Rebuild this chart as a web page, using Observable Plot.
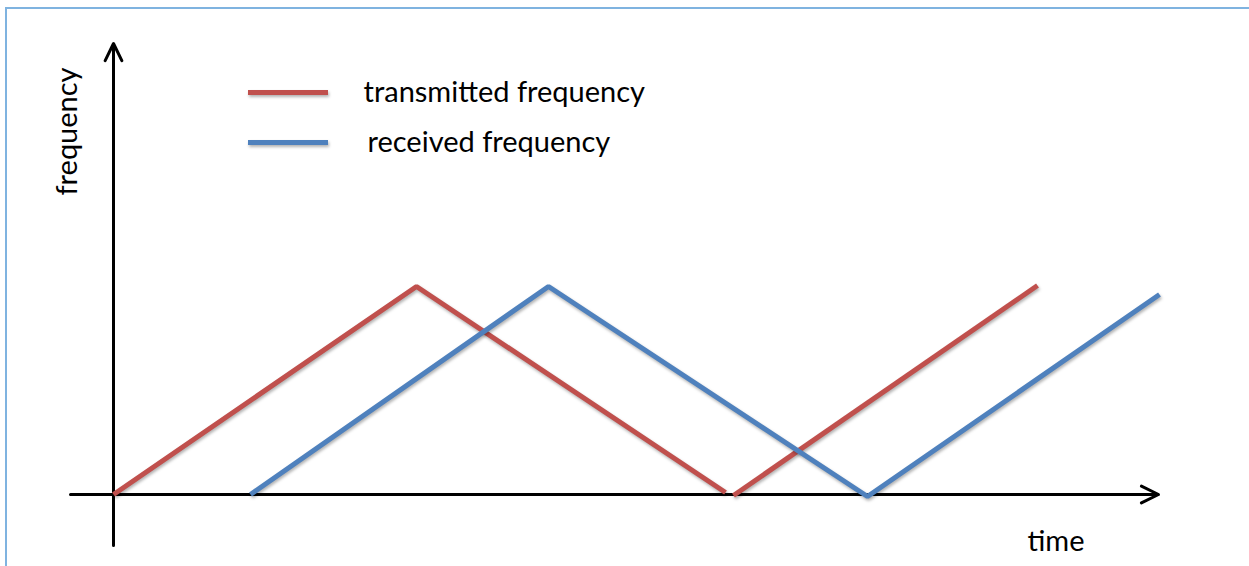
<!DOCTYPE html>
<html>
<head>
<meta charset="utf-8">
<script src="https://cdn.jsdelivr.net/npm/d3@7"></script>
<script src="https://cdn.jsdelivr.net/npm/@observablehq/plot@0.6"></script>
<style>
  html, body { margin: 0; padding: 0; background: #fff; }
  #wrap { position: relative; width: 1249px; height: 566px; overflow: hidden; }
  #frame { position: absolute; left: 5px; top: 7px; right: -10px; bottom: -10px;
           border-top: 2px solid #7fb3e0; border-left: 2px solid #7fb3e0; pointer-events: none; }
  svg g[aria-description="signal"] { filter: drop-shadow(1.5px 2px 1.5px rgba(0,0,0,0.3)); }
</style>
</head>
<body>
<div id="wrap"><div id="frame"></div></div>
<script>
// Series: time (t) and frequency (f) vertices
const seriesNames = ["transmitted frequency", "received frequency"];
const seriesColors = ["#c0504d", "#4f81bd"];
const transmittedT = [0, 3.03, 6.12];
const transmittedF = [0, 2.08, 0.02];
const transmitted2T = [6.20, 9.24];
const transmitted2F = [-0.01, 2.09];
const receivedT = [1.37, 4.35, 7.54, 10.46];
const receivedF = [0, 2.08, -0.02, 2.00];

// Axis extents (data units)
const xAxisExtent = [-0.43, 10.45];
const yAxisExtent = [-0.51, 4.51];
const axisLabels = ["time", "frequency"];

const pts = (ts, fs) => ts.map((t, i) => ({t, f: fs[i]}));
const segments = [
  {data: pts(transmittedT, transmittedF), color: seriesColors[0]},
  {data: pts(transmitted2T, transmitted2F), color: seriesColors[0]},
  {data: pts(receivedT, receivedF), color: seriesColors[1]}
];

const legendRows = seriesNames.map((name, i) => ({
  name, color: seriesColors[i],
  x1: 1.35, x2: 2.15, y: 4.02 - i * 0.5,
  tx: i === 0 ? 2.50 : 2.54
}));

const font = "Lato, 'Open Sans', sans-serif";
const fs = 29;

const chart = Plot.plot({
  width: 1249,
  height: 566,
  margin: 0,
  x: {domain: [0, 10], range: [113, 1113], axis: null},
  y: {domain: [0, 2], range: [494, 294], axis: null},
  style: {fontFamily: font, background: "transparent", overflow: "visible"},
  marks: [
    // axes
    Plot.arrow([0], {x1: xAxisExtent[0], x2: xAxisExtent[1], y1: 0, y2: 0,
      stroke: "black", strokeWidth: 3, headLength: 9.5, headAngle: 52}),
    Plot.arrow([0], {x1: 0, x2: 0, y1: yAxisExtent[0], y2: yAxisExtent[1],
      stroke: "black", strokeWidth: 3, headLength: 9.5, headAngle: 52}),
    // signals
    ...segments.map(s => Plot.line(s.data, {x: "t", y: "f",
      stroke: s.color, strokeWidth: 5, strokeLinecap: "butt", strokeLinejoin: "miter",
      ariaDescription: "signal"})),
    // legend
    Plot.ruleY(legendRows, {x1: "x1", x2: "x2", y: "y", stroke: "color", strokeWidth: 5,
      ariaDescription: "signal"}),
    Plot.text(legendRows, {x: "tx", y: "y", text: "name", textAnchor: "start",
      fontSize: fs, fill: "black", lineAnchor: "middle"}),
    // axis labels
    Plot.text([axisLabels[0]], {x: 9.14, y: -0.47, text: d => d, textAnchor: "start",
      fontSize: fs, fill: "black"}),
    Plot.text([axisLabels[1]], {x: -0.46, y: 3.63, text: d => d, rotate: -90,
      fontSize: fs, fill: "black"})
  ]
});
document.getElementById("wrap").prepend(chart);
</script>
</body>
</html>
